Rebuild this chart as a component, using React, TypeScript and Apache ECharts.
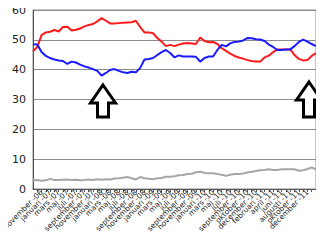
import React, { useEffect, useRef } from "react";
import * as echarts from "echarts";

const categories: string[] = [
  "VAL 2006", "oktober -06", "november -06", "december -06",
  "januari -07", "februari -07", "mars -07", "april -07", "maj -07", "juni -07", "juli -07", "augusti -07", "september -07", "oktober -07", "november -07", "december -07",
  "januari -08", "februari -08", "mars -08", "april -08", "maj -08", "juni -08", "juli -08", "augusti -08", "september -08", "oktober -08", "november -08", "december -08",
  "januari -09", "februari -09", "mars -09", "april -09", "maj -09", "juni -09", "juli -09", "augusti -09", "september -09", "oktober -09", "november -09", "december -09",
  "januari -10", "februari -10", "mars -10", "april -10", "maj -10", "juni -10", "juli -10", "augusti -10", "september -10", "VAL 2010", "oktober -10", "november -10", "december -10",
  "januari -11", "februari -11", "mars -11", "april -11", "maj -11", "juni -11", "juli -11", "augusti -11", "september -11", "oktober -11", "november -11", "december -11",
  "januari -12", "24-feb",
];

const redValues: number[] = [
  46.2, 47.6, 51.6, 52.5, 52.7, 53.3, 52.8, 54.3, 54.4, 53.1,
  53.4, 53.8, 54.5, 55.0, 55.3, 56.2, 57.3, 56.4, 55.5, 55.5,
  55.6, 55.7, 55.8, 55.9, 56.4, 54.3, 52.5, 52.5, 52.2, 50.6,
  49.4, 47.9, 48.3, 47.9, 48.4, 48.8, 48.9, 48.8, 48.6, 50.8,
  49.6, 49.2, 49.3, 48.6, 47.2, 46.3, 45.4, 44.6, 44.1, 43.7,
  43.2, 42.9, 42.7, 42.7, 44.1, 44.7, 45.9, 46.8, 46.8, 46.8,
  46.8, 44.9, 43.6, 43.1, 43.2, 44.6, 45.6,
];

const blueValues: number[] = [
  48.5, 48.4, 45.9, 44.6, 43.9, 43.4, 43.1, 42.9, 41.9, 42.7,
  42.4, 41.7, 41.1, 40.7, 40.2, 39.6, 38.0, 38.9, 39.9, 40.2,
  39.6, 39.1, 38.9, 39.3, 39.1, 40.6, 43.4, 43.6, 43.9, 44.9,
  45.9, 46.6, 45.6, 44.1, 44.8, 44.4, 44.4, 44.4, 44.3, 42.7,
  43.9, 44.4, 44.4, 46.6, 48.3, 47.8, 48.8, 49.3, 49.4, 49.8,
  50.6, 50.5, 50.2, 50.1, 49.6, 48.4, 47.6, 46.6, 46.6, 46.8,
  46.8, 47.9, 49.3, 50.1, 49.4, 48.6, 47.9,
];

const greyValues: number[] = [
  2.9, 3.0, 2.8, 2.9, 3.4, 3.0, 3.0, 3.1, 3.2, 3.0,
  3.1, 2.9, 3.0, 3.2, 3.0, 3.3, 3.1, 3.3, 3.2, 3.5,
  3.6, 3.8, 4.0, 3.6, 3.2, 4.0, 3.6, 3.4, 3.3, 3.6,
  3.7, 4.1, 4.1, 4.3, 4.6, 4.7, 5.0, 5.1, 5.6, 5.8,
  5.4, 5.3, 5.3, 5.0, 4.8, 4.4, 4.8, 5.0, 5.0, 5.2,
  5.5, 5.8, 6.0, 6.3, 6.4, 6.6, 6.4, 6.4, 6.6, 6.6,
  6.6, 6.6, 6.1, 6.3, 6.7, 7.2, 6.6,
];

const yTicks = { min: 0, max: 60, interval: 10 };

function arrow(tipX: number, tipY: number, bottomY: number) {
  const headY = tipY + 18;
  return {
    type: "polygon",
    shape: {
      points: [
        [tipX, tipY],
        [tipX + 12.5, headY],
        [tipX + 5.5, headY],
        [tipX + 5.5, bottomY],
        [tipX - 5.5, bottomY],
        [tipX - 5.5, headY],
        [tipX - 12.5, headY],
      ],
    },
    style: { fill: "#ffffff", stroke: "#000000", lineWidth: 3, lineJoin: "miter" },
    z: 100,
  };
}

export default function App() {
  const ref = useRef<HTMLDivElement>(null);
  useEffect(() => {
    if (!ref.current) return;
    const chart = echarts.init(ref.current, null, { renderer: "svg" });
    chart.setOption({
      animation: false,
      backgroundColor: "#ffffff",
      grid: {
        left: 33,
        right: 8,
        top: 10,
        bottom: 61,
        show: true,
        borderColor: "#8c8c8c",
        borderWidth: 1,
        outerBoundsMode: "none",
      },
      xAxis: {
        type: "category",
        data: categories,
        boundaryGap: false,
        axisLine: { lineStyle: { color: "#555555", width: 1 } },
        axisTick: { show: true, interval: 0, length: 3, lineStyle: { color: "#555555" } },
        axisLabel: {
          interval: 1,
          rotate: 45,
          fontSize: 7.5,
          fontFamily: "'DejaVu Sans', sans-serif",
          color: "#222222",
          margin: 2,
          hideOverlap: false,
        },
        splitLine: { show: false },
      },
      yAxis: {
        type: "value",
        min: yTicks.min,
        max: yTicks.max,
        interval: yTicks.interval,
        axisLine: { show: true, lineStyle: { color: "#555555", width: 1 } },
        axisTick: { show: false },
        axisLabel: { fontSize: 11, fontFamily: "'DejaVu Sans', sans-serif", color: "#222222", margin: 7 },
        splitLine: { show: true, lineStyle: { color: "#8c8c8c", width: 1 } },
      },
      series: [
        {
          type: "line",
          data: greyValues,
          symbol: "none",
          lineStyle: { color: "#a6a6a6", width: 2 },
        },
        {
          type: "line",
          data: redValues,
          symbol: "none",
          lineStyle: { color: "#ff1a1a", width: 2 },
        },
        {
          type: "line",
          data: blueValues,
          symbol: "none",
          lineStyle: { color: "#1a1aff", width: 2 },
        },
      ],
      graphic: [arrow(103, 85, 117), arrow(309, 82, 117)],
    });
    return () => chart.dispose();
  }, []);
  return <div ref={ref} style={{ width: 324, height: 250, margin: -8 }} />;
}
